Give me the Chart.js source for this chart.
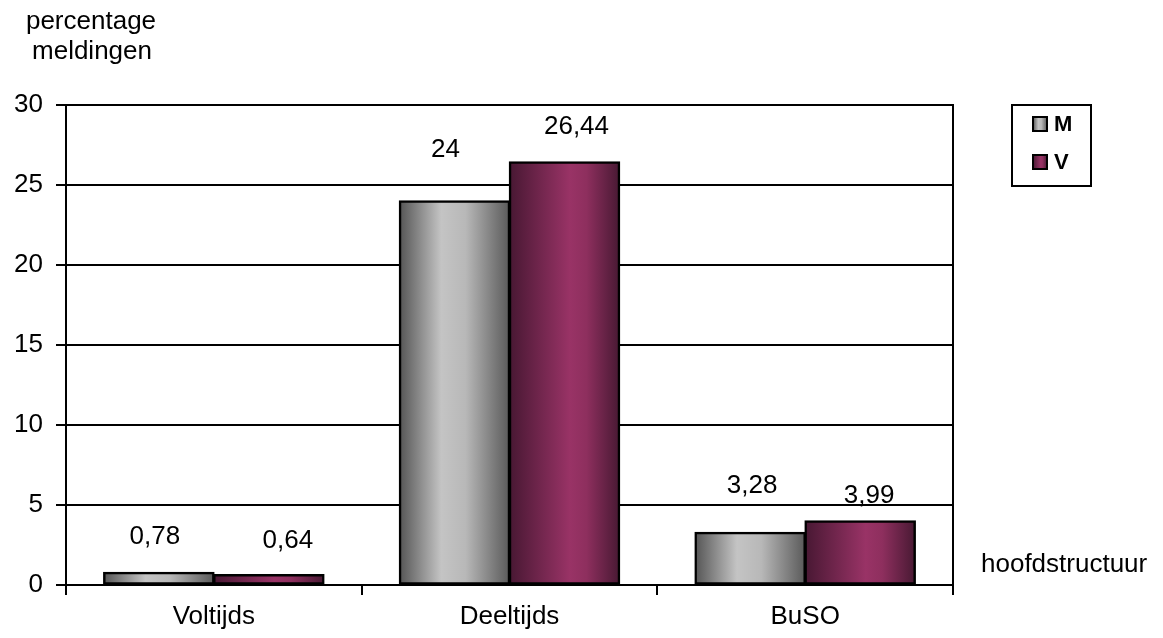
<!DOCTYPE html>
<html>
<head>
<meta charset="utf-8">
<script src="https://cdn.jsdelivr.net/npm/chart.js@4.4.1/dist/chart.umd.min.js"></script>
<style>
  html, body { margin: 0; padding: 0; background: #fff; }
  #wrap { width: 1163px; height: 638px; position: relative; }
</style>
</head>
<body>
<div id="wrap"><canvas id="chart"></canvas></div>
<script>
const categories = ["Voltijds", "Deeltijds", "BuSO"];
const seriesNames = ["M", "V"];
const valuesM = [0.78, 24, 3.28];
const valuesV = [0.64, 26.44, 3.99];
const labelsM = ["0,78", "24", "3,28"];
const labelsV = ["0,64", "26,44", "3,99"];
const yTicks = [0, 5, 10, 15, 20, 25, 30];

// label placement (pixels above bar top / sideways shift), as in the original
const labelLiftM = [36, 51, 47];
const labelLiftV = [34, 35, 25];
const labelShiftM = [-4, -9, 2];
const labelShiftV = [19, 12, 9];

const FONT = "Arial, 'Liberation Sans', sans-serif";
const CAT_PCT = 0.744;

function grayGradient(ctx, left, width) {
  const g = ctx.createLinearGradient(left, 0, left + width, 0);
  g.addColorStop(0, "#555555");
  g.addColorStop(0.38, "#c4c4c4");
  g.addColorStop(0.6, "#b8b8b8");
  g.addColorStop(1, "#5a5a5a");
  return g;
}

function maroonGradient(ctx, left, width) {
  const g = ctx.createLinearGradient(left, 0, left + width, 0);
  g.addColorStop(0, "#481833");
  g.addColorStop(0.55, "#993366");
  g.addColorStop(0.7, "#8e2f5e");
  g.addColorStop(1, "#481933");
  return g;
}

function barFill(context) {
  const chart = context.chart;
  const xs = chart.scales.x;
  const fallback = context.datasetIndex === 0 ? "#a0a0a0" : "#993366";
  if (!xs || !chart.chartArea) return fallback;
  const center = xs.getPixelForValue(context.dataIndex);
  const barW = (xs.width / categories.length) * CAT_PCT / 2;
  const left = context.datasetIndex === 0 ? center - barW : center;
  return context.datasetIndex === 0
    ? grayGradient(chart.ctx, left, barW)
    : maroonGradient(chart.ctx, left, barW);
}

const decorations = {
  id: "decorations",
  afterDraw(chart) {
    const ctx = chart.ctx;
    const area = chart.chartArea;
    ctx.save();

    // right border of plot
    ctx.strokeStyle = "#000";
    ctx.lineWidth = 2;
    ctx.beginPath();
    ctx.moveTo(area.right, area.top - 1);
    ctx.lineTo(area.right, area.bottom);
    ctx.stroke();

    // value labels
    ctx.fillStyle = "#000";
    ctx.font = "26px " + FONT;
    ctx.textAlign = "center";
    ctx.textBaseline = "middle";
    const sets = [
      [labelsM, labelLiftM, labelShiftM],
      [labelsV, labelLiftV, labelShiftV]
    ];
    sets.forEach((s, di) => {
      const meta = chart.getDatasetMeta(di);
      meta.data.forEach((bar, i) => {
        ctx.fillText(s[0][i], bar.x + s[2][i], bar.y - s[1][i]);
      });
    });

    // axis titles
    ctx.textBaseline = "alphabetic";
    ctx.fillText("percentage", 91, 29);
    ctx.fillText("meldingen", 92, 59);
    ctx.textAlign = "left";
    ctx.fillText("hoofdstructuur", 981, 572);

    // legend
    ctx.lineWidth = 2;
    ctx.strokeRect(1012, 105, 79, 81);
    const swatches = [
      [grayGradient, 116],
      [maroonGradient, 154]
    ];
    ctx.font = "bold 22px " + FONT;
    ctx.textBaseline = "middle";
    swatches.forEach((sw, i) => {
      ctx.fillStyle = sw[0](ctx, 1033, 14);
      ctx.fillRect(1033, sw[1] + 1, 14, 14);
      ctx.strokeStyle = "#000";
      ctx.strokeRect(1033, sw[1] + 1, 14, 14);
      ctx.fillStyle = "#000";
      ctx.fillText(seriesNames[i], 1054, sw[1] + 9);
    });
    ctx.restore();
  }
};

new Chart(document.getElementById("chart"), {
  type: "bar",
  data: {
    labels: categories,
    datasets: [
      {
        label: seriesNames[0],
        data: valuesM,
        backgroundColor: barFill,
        borderColor: "#000",
        borderWidth: 2.5,
        borderSkipped: false,
        inflateAmount: 0.8
      },
      {
        label: seriesNames[1],
        data: valuesV,
        backgroundColor: barFill,
        borderColor: "#000",
        borderWidth: 2.5,
        borderSkipped: false,
        inflateAmount: 0.8
      }
    ]
  },
  options: {
    responsive: true,
    maintainAspectRatio: false,
    animation: false,
    devicePixelRatio: 1,
    layout: { padding: { top: 105, right: 210, bottom: 0, left: 0 } },
    datasets: { bar: { categoryPercentage: CAT_PCT, barPercentage: 1 } },
    plugins: { legend: { display: false }, tooltip: { enabled: false } },
    scales: {
      x: {
        afterFit: (scale) => { scale.height = 53; },
        grid: {
          offset: true,
          drawOnChartArea: false,
          drawTicks: true,
          tickLength: 10,
          color: "#000",
          lineWidth: 2
        },
        border: { color: "#000", width: 2 },
        ticks: {
          color: "#000",
          font: { family: FONT, size: 26 },
          padding: 6
        }
      },
      y: {
        min: 0,
        max: 30,
        afterFit: (scale) => { scale.width = 66; },
        afterBuildTicks: (scale) => {
          scale.ticks = yTicks.map((v) => ({ value: v }));
        },
        grid: {
          color: "#000",
          lineWidth: 2,
          drawTicks: true,
          tickLength: 10
        },
        border: { color: "#000", width: 2 },
        ticks: {
          color: "#000",
          font: { family: FONT, size: 26 },
          padding: 13
        }
      }
    }
  },
  plugins: [decorations]
});
</script>
</body>
</html>
